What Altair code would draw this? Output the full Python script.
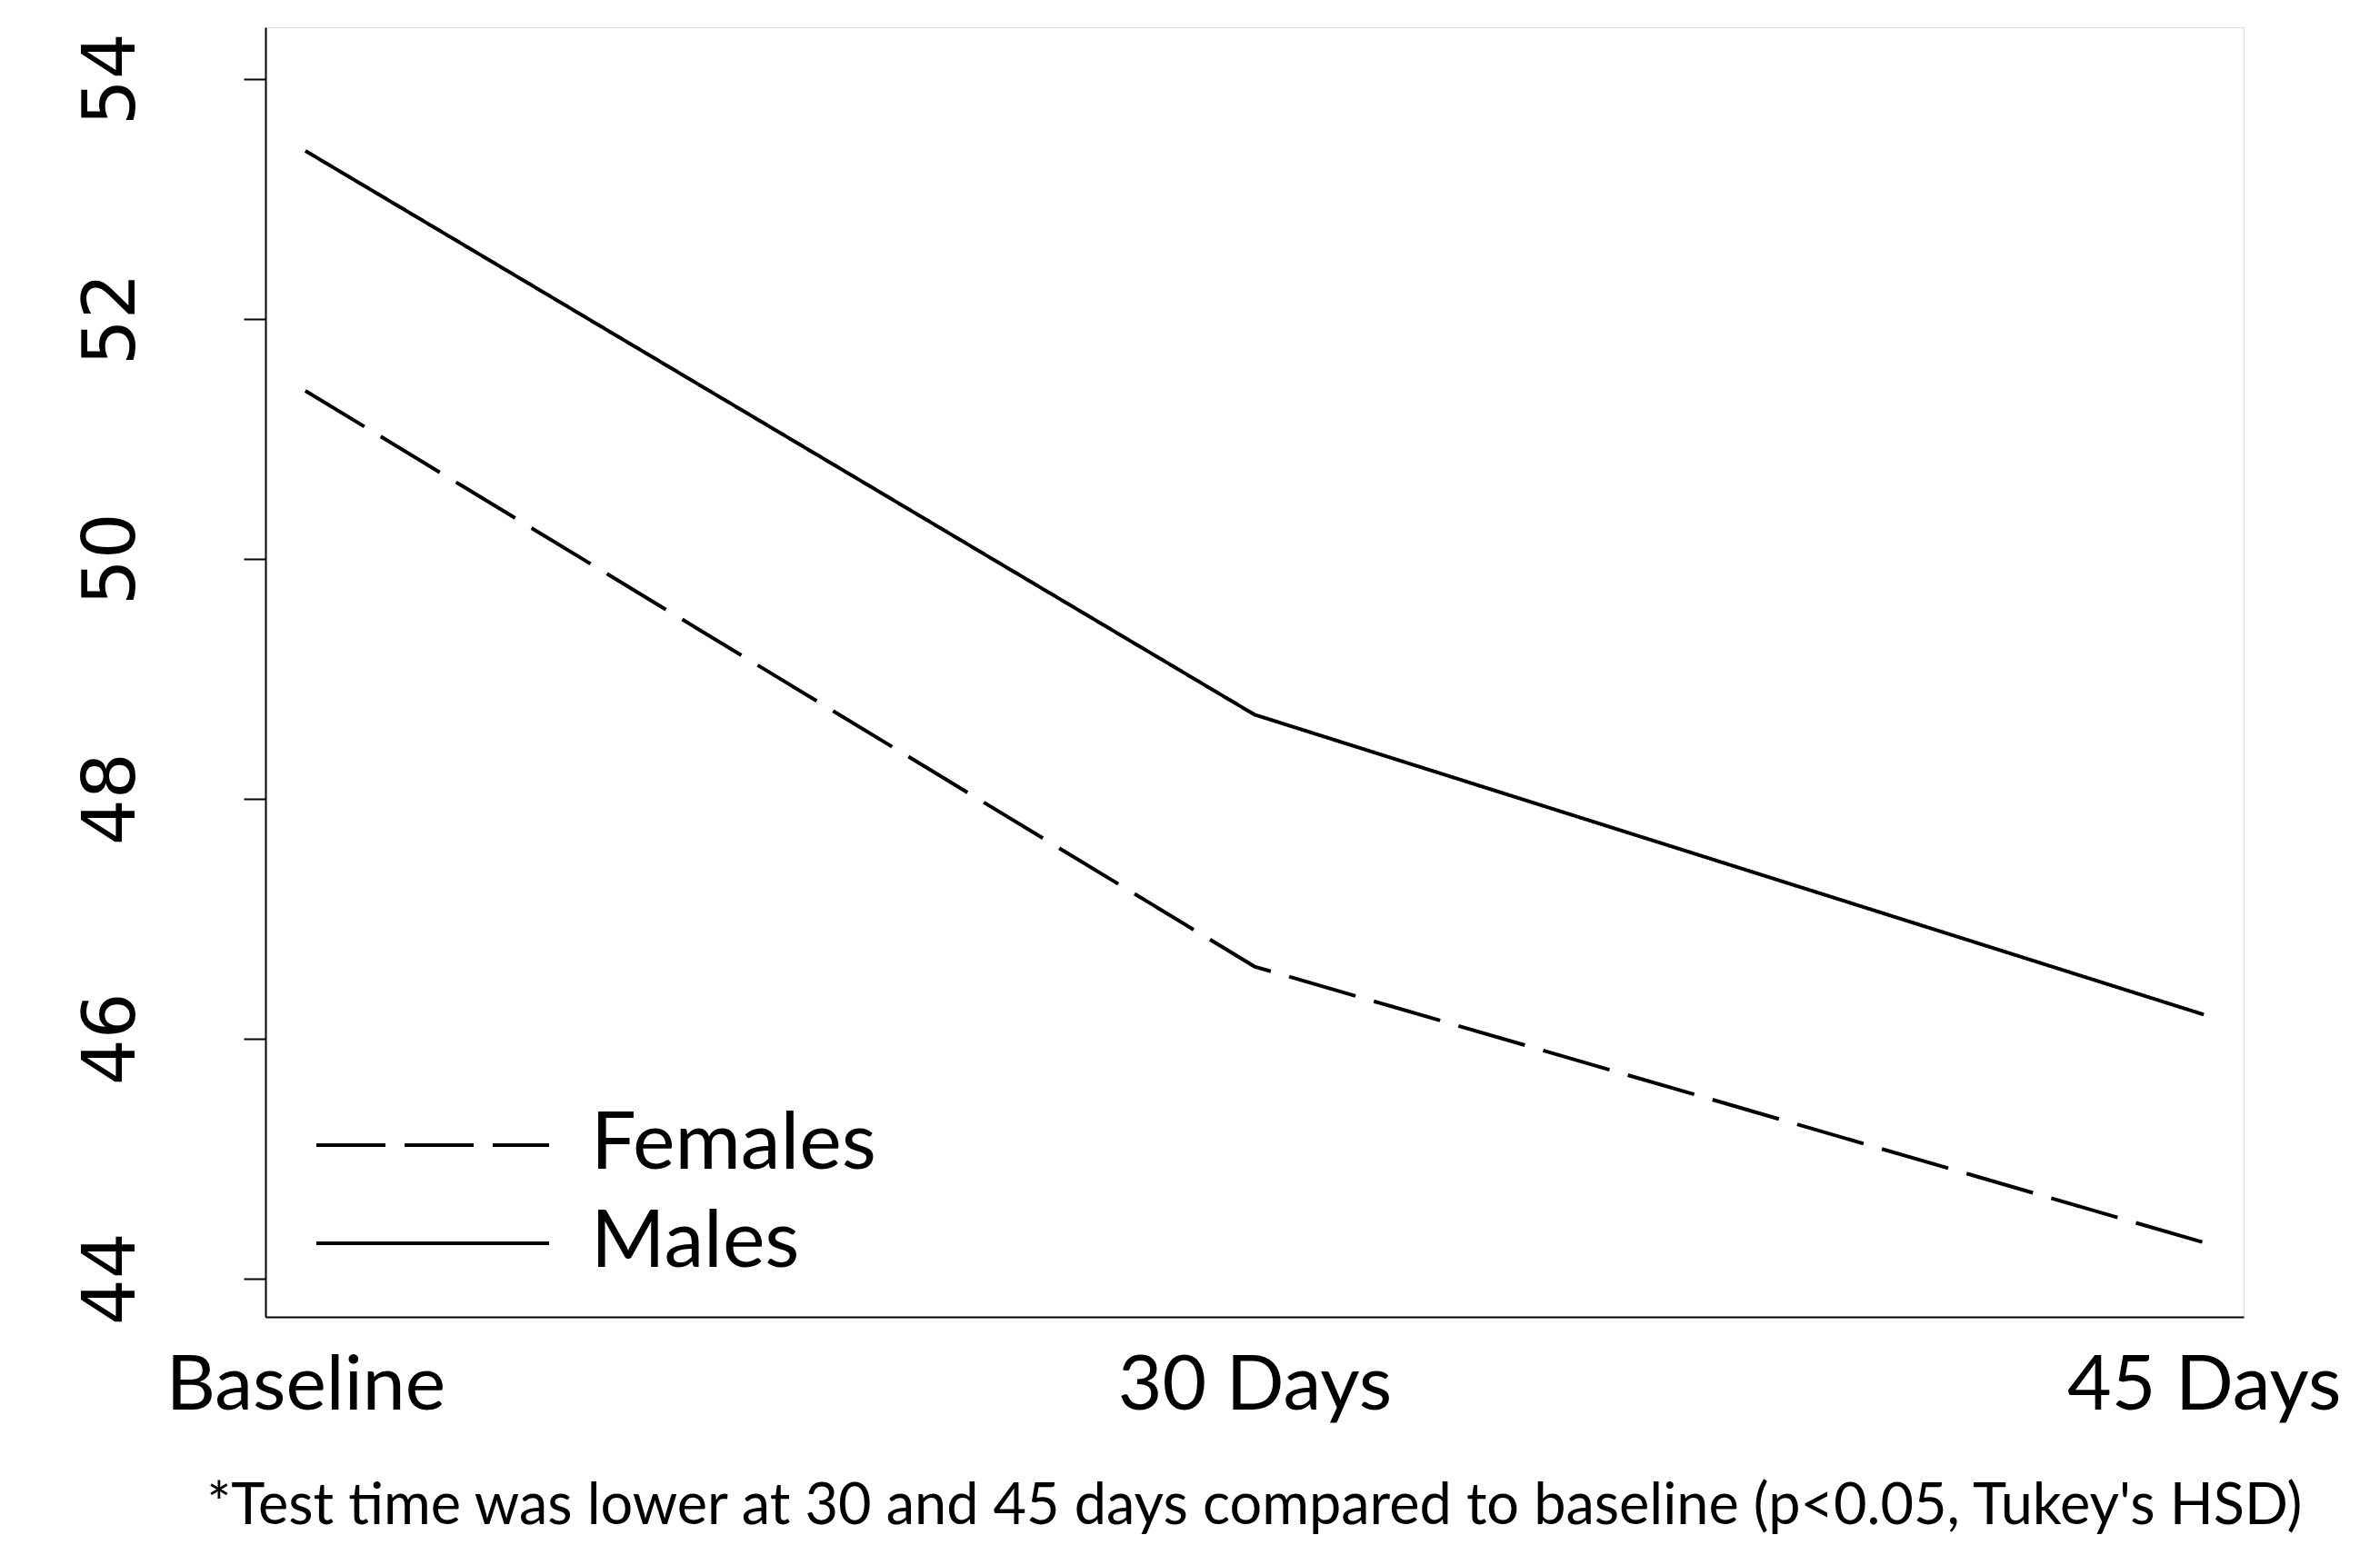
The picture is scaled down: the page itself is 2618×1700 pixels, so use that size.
import altair as alt
import pandas as pd

categories = ["Baseline", "30 Days", "45 Days"]
females = [51.4, 46.6, 44.3]
males = [53.4, 48.7, 46.2]
groups = ["Females", "Males"]
y_ticks = [44, 46, 48, 50, 52, 54]
caption = "*Test time was lower at 30 and 45 days compared to baseline (p<0.05, Tukey's HSD)"

rows = []
for g, vals in zip(groups, [females, males]):
    for c, v in zip(categories, vals):
        rows.append({"time": c, "value": v, "group": g})
df = pd.DataFrame(rows)

legend = alt.Legend(
    title=None,
    orient="none",
    legendX=54,
    legendY=1190,
    symbolType="stroke",
    symbolSize=65536,
    symbolStrokeWidth=4,
    symbolStrokeColor="black",
    labelFont="Lato",
    labelFontSize=88,
    labelColor="black",
    labelOffset=44,
    labelLimit=0,
    clipHeight=80,
    rowPadding=20,
    padding=0,
)

chart = (
    alt.Chart(df)
    .mark_line(strokeWidth=4, color="black")
    .encode(
        x=alt.X(
            "time:N",
            sort=categories,
            scale=alt.Scale(type="point", padding=0.042),
            axis=alt.Axis(
                title=None, labelAngle=0, ticks=False, tickSize=0, labelPadding=101,
                labelFont="Lato", labelFontSize=84, labelColor="black",
                labelBaseline="alphabetic", domainColor="black", domainWidth=2,
                grid=False, labelOverlap=False, labelLimit=0,
            ),
        ),
        y=alt.Y(
            "value:Q",
            scale=alt.Scale(domain=[43.68, 54.43], nice=False, zero=False),
            axis=alt.Axis(
                title=None, values=y_ticks, labelAngle=-90, labelAlign="center",
                labelBaseline="alphabetic", labelPadding=121, tickSize=24, tickWidth=2,
                tickColor="black", domainColor="black", domainWidth=2,
                labelFont="DejaVu Sans", labelFontSize=80, labelColor="black",
                grid=False, labelFlush=False, labelOverlap=False, labelLimit=0,
            ),
        ),
        strokeDash=alt.StrokeDash(
            "group:N",
            scale=alt.Scale(domain=groups, range=[[76, 21], [1, 0]]),
            legend=legend,
        ),
    )
    .properties(
        width=2176,
        height=1419,
        autosize=alt.AutoSizeParams(type="none"),
        padding={"left": 284, "top": 22, "right": 142, "bottom": 243},
        title=alt.TitleParams(
            caption, orient="bottom", anchor="middle", font="Lato", fontSize=63,
            fontWeight="normal", color="black", offset=60, limit=0,
        ),
    )
    .configure_view(stroke=None)
    .configure(background="white")
)

chart.save("out.html", embed_options={"renderer": "svg", "actions": False})
